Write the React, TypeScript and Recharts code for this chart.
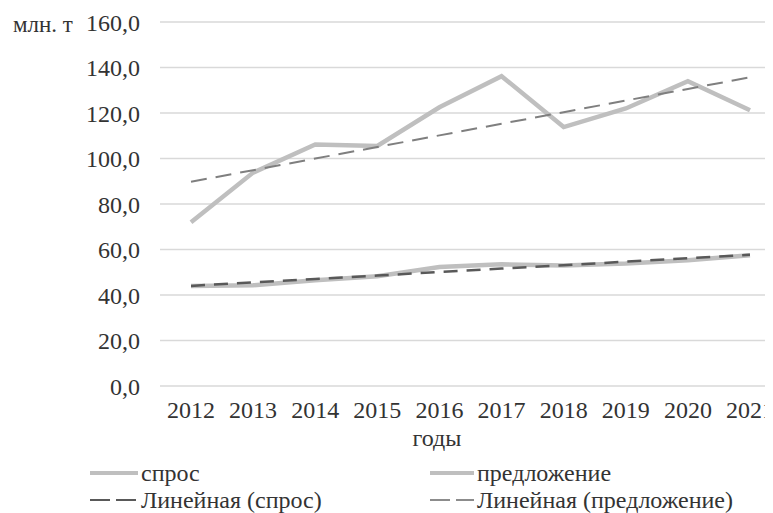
import React from 'react';
import { LineChart, Line, XAxis, YAxis, CartesianGrid, Legend } from 'recharts';

const years = ['2012', '2013', '2014', '2015', '2016', '2017', '2018', '2019', '2020', '2021'];
// спрос (lower series)
const demand = [44.0, 44.3, 46.5, 48.2, 52.3, 53.5, 53.0, 53.8, 55.3, 57.5];
// предложение (upper series)
const supply = [72.0, 93.8, 106.2, 105.5, 122.5, 136.2, 113.8, 122.0, 134.0, 121.2];
const yTicks = [0, 20, 40, 60, 80, 100, 120, 140, 160];

// least-squares linear trend, like Excel's "Линейная" trendline
const linearTrend = (values: number[]): number[] => {
  const n = values.length;
  const mx = (n - 1) / 2;
  const my = values.reduce((s, v) => s + v, 0) / n;
  let sxy = 0;
  let sxx = 0;
  values.forEach((v, i) => {
    sxy += (i - mx) * (v - my);
    sxx += (i - mx) * (i - mx);
  });
  const k = sxy / sxx;
  return values.map((_, i) => my + k * (i - mx));
};

const demandTrend = linearTrend(demand);
const supplyTrend = linearTrend(supply);

const data = years.map((year, i) => ({
  year,
  demand: demand[i],
  supply: supply[i],
  demandTrend: demandTrend[i],
  supplyTrend: supplyTrend[i],
}));

const FONT = '"Liberation Serif", "Times New Roman", serif';
const TEXT = '#333333';
const FS = 24;
const fmt = (v: number) => v.toFixed(1).replace('.', ',');

const legendItems = [
  { name: 'спрос', color: '#bfbfbf', width: 4, dash: undefined, x: 82, y: 25 },
  { name: 'предложение', color: '#bfbfbf', width: 4, dash: undefined, x: 418, y: 25 },
  { name: 'Линейная (спрос)', color: '#595959', width: 2, dash: '20 6', x: 82, y: 52 },
  { name: 'Линейная (предложение)', color: '#8c8c8c', width: 2, dash: '20 6', x: 418, y: 52 },
];

const renderLegend = () => (
  <div style={{ position: 'relative', width: 790, height: 65, fontFamily: FONT, fontSize: FS, color: TEXT }}>
    {legendItems.map((it) => (
      <div
        key={it.name}
        style={{ position: 'absolute', left: it.x, top: it.y - 11, height: 22, display: 'flex', alignItems: 'center', whiteSpace: 'nowrap' }}
      >
        <svg width={50} height={10} style={{ marginRight: 1 }}>
          <line x1={it.x > 100 ? 4 : 0} y1={5} x2={48} y2={5} stroke={it.color} strokeWidth={it.width} strokeDasharray={it.dash} />
        </svg>
        <span style={{ lineHeight: '22px' }}>{it.name}</span>
      </div>
    ))}
  </div>
);

const App: React.FC = () => {
  return (
    <div style={{ width: 765, height: 505, overflow: 'hidden', position: 'relative', fontFamily: FONT }}>
      <LineChart width={790} height={505} data={data} margin={{ top: 14, right: 17, left: 0, bottom: 0 }}>
        <CartesianGrid vertical={false} stroke="#d9d9d9" strokeWidth={1.5} />
        <XAxis
          dataKey="year"
          interval={0}
          padding={{ left: 31, right: 31 }}
          axisLine={false}
          tickLine={false}
          tickSize={0}
          tickMargin={15}
          height={62}
          tick={{ fontSize: FS, fill: TEXT, fontFamily: FONT }}
          label={{
            content: () => (
              <text x={429} y={438} textAnchor="middle" fontSize={FS} fill={TEXT} fontFamily={FONT}>
                годы
              </text>
            ),
          }}
        />
        <YAxis
          domain={[0, 160]}
          ticks={yTicks}
          width={152}
          axisLine={false}
          tickLine={false}
          tickSize={0}
          tickMargin={20}
          tickFormatter={fmt}
          tick={{ fontSize: FS, fill: TEXT, fontFamily: FONT }}
          label={{
            content: () => (
              <text x={5} y={24} fontSize={23} fill={TEXT} fontFamily={FONT}>
                млн. т
              </text>
            ),
          }}
        />
        <Legend verticalAlign="bottom" content={renderLegend} wrapperStyle={{ left: 0, width: 790 }} />
        <Line type="linear" dataKey="demand" name="спрос" stroke="#bfbfbf" strokeWidth={4.5} dot={false} isAnimationActive={false} />
        <Line type="linear" dataKey="supply" name="предложение" stroke="#bfbfbf" strokeWidth={4.5} dot={false} isAnimationActive={false} />
        <Line type="linear" dataKey="demandTrend" name="Линейная (спрос)" stroke="#595959" strokeWidth={2.5} strokeDasharray="14 9" dot={false} isAnimationActive={false} />
        <Line type="linear" dataKey="supplyTrend" name="Линейная (предложение)" stroke="#7f7f7f" strokeWidth={2} strokeDasharray="16 9" dot={false} isAnimationActive={false} />
      </LineChart>
    </div>
  );
};

export default App;
